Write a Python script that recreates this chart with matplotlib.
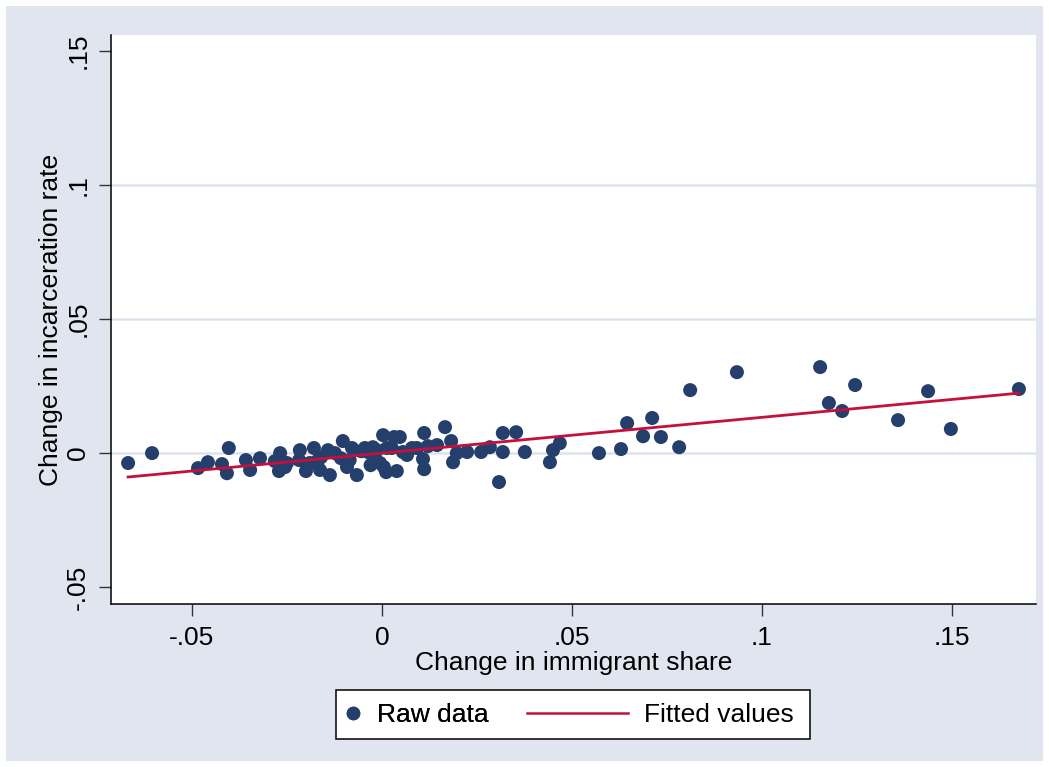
import numpy as np
import matplotlib
matplotlib.use("Agg")
import matplotlib.pyplot as plt
from matplotlib.patches import Rectangle
from matplotlib.lines import Line2D

plt.rcParams['font.family'] = ['Liberation Sans', 'DejaVu Sans']

# Data
immigrant_share_change = [
    -0.0668, -0.0605, -0.0484, -0.0458, -0.0421, -0.0408, -0.0403, -0.0358, -0.0347, -0.0321,
    -0.0282, -0.0268, -0.0271, -0.0255, -0.0250, -0.0216, -0.0218, -0.0200, -0.0179, -0.0168,
    -0.0163, -0.0142, -0.0137, -0.0124, -0.0103, -0.0108, -0.0092, -0.0079, -0.0066, -0.0055,
    -0.0037, -0.0045, -0.0024, -0.0018, -0.0013, -0.0005, 0.0003, 0.0011, 0.0013, 0.0026,
    0.0032, 0.0047, 0.0039, 0.0055, 0.0066, 0.0079, 0.0092, 0.0111, 0.0108, 0.0111,
    0.0121, 0.0145, 0.0166, 0.0182, 0.0187, 0.0197, 0.0224, 0.0261, 0.0284, 0.0318,
    0.0353, 0.0318, 0.0308, 0.0376, 0.0442, 0.0450, 0.0468, 0.0571, 0.0629, 0.0645,
    0.0687, 0.0711, 0.0734, 0.0782, 0.0811, 0.0934, 0.1153, 0.1176, 0.1211, 0.1245,
    0.1358, 0.1437, 0.1497, 0.1676,
    -0.0190, -0.0160, -0.0085, -0.0030, 0.0005,
]
incarceration_rate_change = [
    -0.0037, 0.0000, -0.0056, -0.0034, -0.0041, -0.0075, 0.0019, -0.0026, -0.0063, -0.0019,
    -0.0030, 0.0000, -0.0067, -0.0052, -0.0037, 0.0011, -0.0026, -0.0067, 0.0019, -0.0026,
    -0.0063, 0.0011, -0.0082, 0.0000, 0.0045, -0.0019, -0.0052, 0.0019, -0.0082, 0.0007,
    0.0004, 0.0019, 0.0022, -0.0019, 0.0011, -0.0037, 0.0067, -0.0071, 0.0019, 0.0019,
    0.0060, 0.0060, -0.0067, 0.0004, -0.0007, 0.0019, 0.0019, -0.0060, -0.0022, 0.0075,
    0.0026, 0.0030, 0.0097, 0.0045, -0.0034, 0.0000, 0.0004, 0.0004, 0.0022, 0.0075,
    0.0078, 0.0004, -0.0108, 0.0004, -0.0034, 0.0011, 0.0037, 0.0000, 0.0015, 0.0112,
    0.0063, 0.0131, 0.0060, 0.0022, 0.0235, 0.0302, 0.0321, 0.0187, 0.0157, 0.0254,
    0.0123, 0.0231, 0.0090, 0.0239,
    -0.0037, -0.0015, -0.0026, -0.0045, -0.0052,
]

x_ticks = [-0.05, 0, 0.05, 0.1, 0.15]
x_tick_labels = ["-.05", "0", ".05", ".1", ".15"]
y_ticks = [-0.05, 0, 0.05, 0.1, 0.15]
y_tick_labels = ["-.05", "0", ".05", ".1", ".15"]
y_grid_values = [0, 0.05, 0.1]

x = np.array(immigrant_share_change)
y = np.array(incarceration_rate_change)
slope, intercept = np.polyfit(x, y, 1)
xf = np.array([x.min(), x.max()])
yf = intercept + slope * xf

W, H = 1049, 767
fig = plt.figure(figsize=(W / 100, H / 100), dpi=100, facecolor='white')
bg = '#e0e5ef'
fig.patches.append(Rectangle((6 / W, 6 / H), 1 - 12 / W, 1 - 12 / H,
                             transform=fig.transFigure, facecolor=bg,
                             edgecolor='none', zorder=-10))

ax = fig.add_axes([111 / W, 1 - 604 / H, (1036 - 111) / W, (604 - 35) / H])
ax.set_facecolor('white')

for gv in y_grid_values:
    ax.axhline(gv, color='#dde3ee', linewidth=1.8, zorder=0)

navy = '#253f6d'
red = '#c4103a'
ax.scatter(x, y, s=102, color=navy, edgecolors='none', zorder=3)
ax.plot(xf, yf, color=red, linewidth=2.0, zorder=4)

ax.set_xlim(-0.0713, 0.1721)
ax.set_ylim(-0.0563, 0.156)
ax.set_xticks(x_ticks)
ax.set_xticklabels(x_tick_labels)
ax.set_yticks(y_ticks)
ax.set_yticklabels(y_tick_labels, rotation=90, va='center')

for s in ['top', 'right']:
    ax.spines[s].set_visible(False)
for s in ['left', 'bottom']:
    ax.spines[s].set_color('black')
    ax.spines[s].set_linewidth(1.1)

ax.tick_params(axis='both', direction='out', length=8.5, width=1.0,
               color='#333333', labelsize=19, pad=6.5)
ax.tick_params(axis='x', pad=7)

ax.set_xlabel("Change in immigrant share", fontsize=19, labelpad=1)
ax.set_ylabel("Change in incarceration rate", fontsize=19, labelpad=2)

# Legend
fs = 19
yc = 1 - 715.5 / H
h1 = Line2D([], [], linestyle='none', marker='o', markersize=9.8,
            markerfacecolor=navy, markeredgecolor='none')
h2 = Line2D([], [], color=red, linewidth=1.8)
leg1 = fig.legend([h1], ["Raw data"], loc='center left',
                  bbox_to_anchor=(340 / W, yc), frameon=False, fontsize=fs,
                  handlelength=1.0, handletextpad=0.4, borderpad=0,
                  borderaxespad=0)
leg2 = fig.legend([h2], ["Fitted values"], loc='center left',
                  bbox_to_anchor=(527 / W, yc), frameon=False, fontsize=fs,
                  handlelength=3.83, handletextpad=0.6, borderpad=0,
                  borderaxespad=0)
fig.add_artist(leg1)
fig.patches.append(Rectangle((336 / W, 1 - 739 / H), 474 / W, 49 / H,
                             transform=fig.transFigure, facecolor='white',
                             edgecolor='black', linewidth=1.1, zorder=-5))

fig.savefig("out.png", dpi=100, facecolor=fig.get_facecolor())
